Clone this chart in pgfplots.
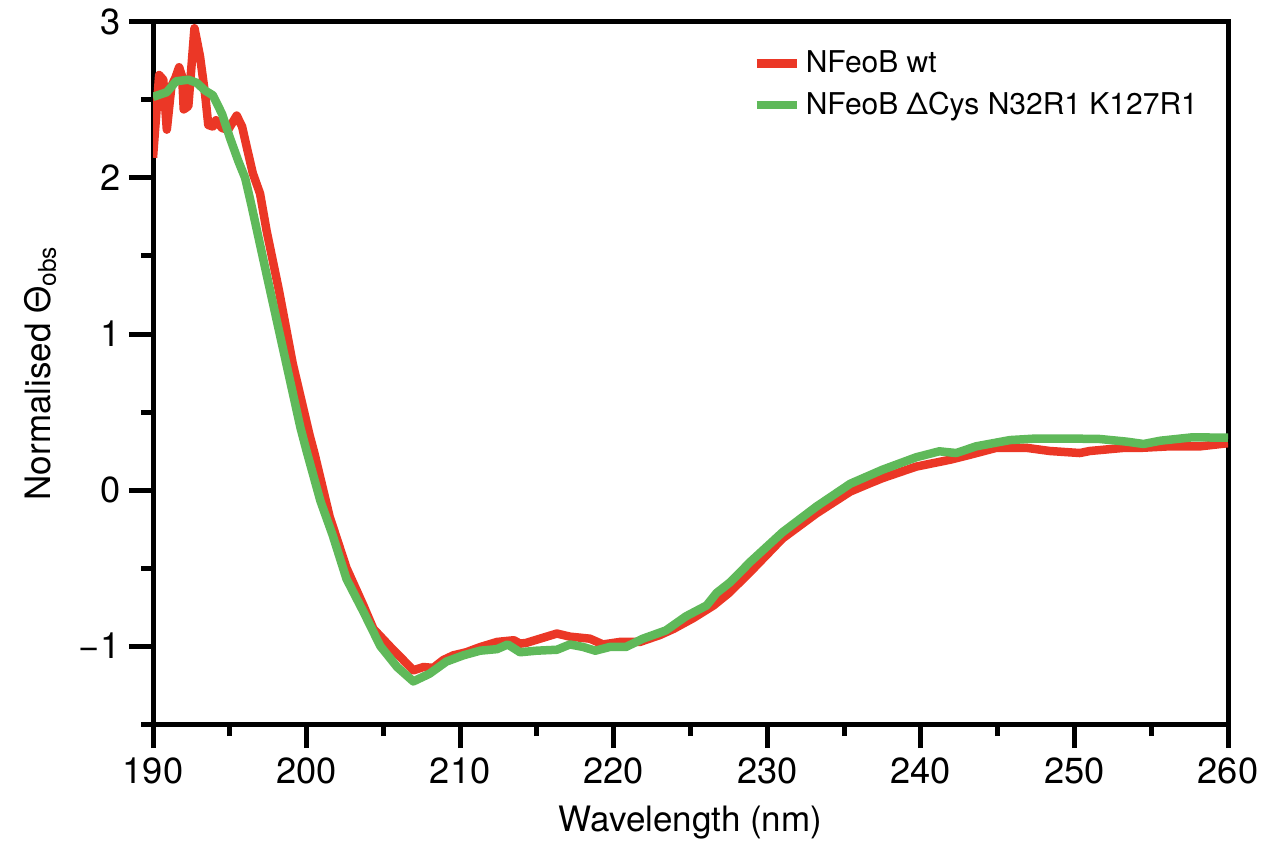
\documentclass[border=0pt]{standalone}
\usepackage{fontspec}
\setmainfont{TeX Gyre Heros}
\usepackage{pgfplots}
\pgfplotsset{compat=1.18}
\usetikzlibrary{calc}
\definecolor{cdred}{RGB}{235,55,38}
\definecolor{cdgreen}{RGB}{95,185,90}
\begin{document}
\begin{tikzpicture}
\begin{axis}[
  scale only axis,
  width=430pt, height=280.8pt,
  xmin=190, xmax=260, ymin=-1.5, ymax=3,
  axis line style={line width=2pt, line cap=rect},
  tick pos=left,
  tick align=outside,
  xtick={190,200,210,220,230,240,250,260},
  xticklabels={190,200,210,220,230,240,250,260},
  minor xtick={195,205,215,225,235,245,255},
  ytick={-1,0,1,2,3},
  yticklabels={−1,0,1,2,3},
  minor ytick={-1.5,-0.5,0.5,1.5,2.5},
  major tick length=9.6pt,
  minor tick length=4.8pt,
  every tick/.style={black, line width=2pt},
  tick label style={font=\fontsize{14.5}{17}\selectfont},
  xticklabel style={anchor=north, yshift=-0.5pt},
  yticklabel style={anchor=east, xshift=0pt},
  xlabel={Wavelength (nm)},
  ylabel={Normalised Θ\textsubscript{obs}},
  label style={font=\fontsize{14}{17}\selectfont},
  xlabel style={at={(axis description cs:0.5,-0.14)}, anchor=center},
  ylabel style={at={(axis description cs:-0.105,0.5)}, anchor=center},
  legend style={draw=none, fill=none, at={(rel axis cs:0.557,0.967)}, anchor=north west,
    font=\fontsize{12}{14.8}\selectfont, inner sep=0pt, row sep=2.2pt,
    cells={anchor=west}},
  legend image code/.code={\draw[#1, line width=3.4pt] (0pt,0pt) -- (16pt,0pt);},
]
\addplot[cdred, line width=3.4pt, line join=round] coordinates {
(190.0,2.13)(190.4,2.66)(190.67,2.63)(190.9,2.31)(191.2,2.59)(191.45,2.64)(191.7,2.71)(191.9,2.65)(192.0,2.44)(192.3,2.46)(192.7,2.96)(193.06,2.78)(193.4,2.53)(193.6,2.34)(193.9,2.33)(194.1,2.37)(194.5,2.32)(194.9,2.31)(195.45,2.40)(195.8,2.33)(196.1,2.20)(196.5,2.03)(196.97,1.90)(197.4,1.66)(198.2,1.28)(199.1,0.81)(200.2,0.35)(200.5,0.24)(201.5,-0.17)(202.6,-0.50)(203.7,-0.74)(204.35,-0.89)(205.4,-1.0)(206.2,-1.08)(206.95,-1.156)(207.6,-1.135)(208.25,-1.14)(208.9,-1.09)(209.55,-1.06)(210.4,-1.04)(211.3,-1.007)(212.4,-0.974)(213.5,-0.963)(213.9,-0.985)(214.3,-0.98)(215.2,-0.953)(216.3,-0.92)(217.15,-0.94)(218.45,-0.953)(219.3,-0.99)(220.4,-0.974)(221.7,-0.974)(223.0,-0.93)(223.9,-0.89)(225.2,-0.82)(226.5,-0.74)(227.5,-0.66)(228.9,-0.524)(231.0,-0.31)(233.2,-0.15)(235.4,-0.01)(236.7,0.044)(237.5,0.076)(239.1,0.13)(239.7,0.15)(241.9,0.194)(243.2,0.226)(244.9,0.27)(246.9,0.27)(248.4,0.25)(250.35,0.237)(251.0,0.25)(253.2,0.27)(254.3,0.27)(256.2,0.28)(258.2,0.28)(260,0.30)
};
\addlegendentry{NFeoB wt}
\addplot[cdgreen, line width=3.4pt, line join=round] coordinates {
(190.0,2.52)(190.9,2.55)(191.5,2.62)(192.3,2.63)(192.85,2.61)(193.4,2.56)(193.9,2.53)(194.5,2.41)(195.0,2.26)(195.55,2.11)(196.0,2.00)(196.4,1.83)(197.4,1.38)(198.5,0.89)(199.6,0.40)(200.0,0.25)(200.9,-0.07)(201.7,-0.29)(202.6,-0.57)(203.7,-0.78)(204.8,-1.0)(205.9,-1.135)(206.95,-1.227)(208.0,-1.178)(209.1,-1.10)(210.2,-1.06)(211.3,-1.03)(212.4,-1.02)(213.1,-0.99)(213.9,-1.04)(214.98,-1.03)(216.3,-1.024)(217.15,-0.99)(218.0,-1.006)(218.8,-1.03)(219.75,-1.006)(220.8,-1.006)(221.9,-0.953)(223.4,-0.90)(224.7,-0.81)(226.05,-0.74)(226.7,-0.66)(227.6,-0.59)(228.9,-0.46)(231.0,-0.27)(233.2,-0.106)(235.4,0.04)(237.5,0.13)(239.7,0.21)(241.2,0.248)(242.3,0.237)(243.6,0.28)(245.8,0.32)(247.5,0.33)(249.5,0.33)(251.65,0.327)(253.4,0.31)(254.5,0.295)(255.6,0.316)(257.7,0.338)(260,0.335)
};
\addlegendentry{NFeoB ΔCys N32R1 K127R1}
\end{axis}
\pgfresetboundingbox
\path[use as bounding box] ($(current axis.south west)+(-61.2pt,-49.6pt)$) rectangle ($(current axis.north east)+(17.2pt,8.8pt)$);
\end{tikzpicture}
\end{document}
